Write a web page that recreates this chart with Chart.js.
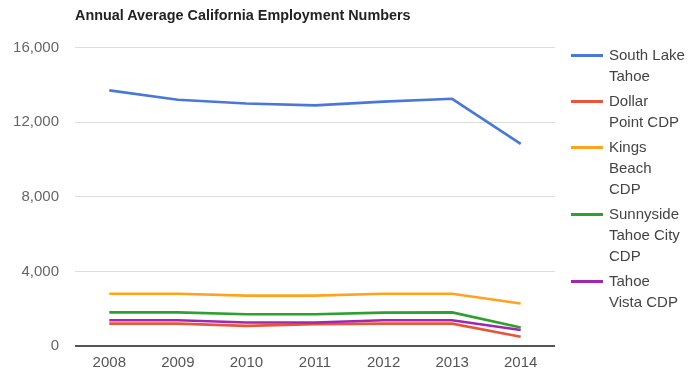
<!DOCTYPE html>
<html>
<head>
<meta charset="utf-8">
<script src="https://cdn.jsdelivr.net/npm/chart.js@4"></script>
<style>
  body { margin:0; background:#fff; font-family:"Liberation Sans", Arial, sans-serif; }
  #wrap { position:relative; width:691px; height:373px; }
  #title { position:absolute; left:75px; top:7px; font-size:14.4px; font-weight:bold; color:#222; }
  #legend { position:absolute; left:571px; top:44px; font-size:15px; color:#444; }
  .item { position:relative; padding-left:38px; line-height:21px; margin-bottom:4px; }
  .item span.sw { position:absolute; left:0; top:10px; width:32px; height:3px; }
</style>
</head>
<body>
<div id="wrap">
  <canvas id="c" width="691" height="373"></canvas>
  <div id="title">Annual Average California Employment Numbers</div>
  <div id="legend"></div>
</div>
<script>
// === Data ===
const years = ['2008','2009','2010','2011','2012','2013','2014'];
const southLake  = [13700, 13200, 13000, 12900, 13100, 13250, 10830];
const dollarPt   = [1200, 1200, 1080, 1170, 1200, 1200, 500];
const kingsBeach = [2800, 2800, 2700, 2700, 2800, 2800, 2280];
const sunnyside  = [1800, 1800, 1700, 1700, 1790, 1800, 990];
const tahoeVista = [1380, 1380, 1260, 1260, 1380, 1380, 860];
const yTicks = [0, 4000, 8000, 12000, 16000];

// legend labels, broken the same way as the original
const names = [
  ['South Lake', 'Tahoe'],
  ['Dollar', 'Point CDP'],
  ['Kings', 'Beach', 'CDP'],
  ['Sunnyside', 'Tahoe City', 'CDP'],
  ['Tahoe', 'Vista CDP']
];
const colors = ['#4a78d6', '#e8553a', '#ffa31f', '#2ea02e', '#a326b0'];
const series = [southLake, dollarPt, kingsBeach, sunnyside, tahoeVista];

const datasets = series.map((d, i) => ({
  label: names[i].join(' '),
  data: d,
  borderColor: colors[i],
  backgroundColor: colors[i],
  borderWidth: 2.6,
  pointRadius: 0,
  tension: 0,
  fill: false
}));
// South Lake drawn last so it sits on top
datasets.reverse();

new Chart(document.getElementById('c'), {
  type: 'line',
  data: { labels: years, datasets },
  options: {
    responsive: false,
    animation: false,
    layout: { padding: { top: 47.5, right: 136, left: 0, bottom: 0 } },
    plugins: { legend: { display: false }, tooltip: { enabled: false } },
    scales: {
      x: {
        offset: true,
        grid: { display: false },
        border: { display: false },
        ticks: { color: '#555', font: { family: 'Liberation Sans', size: 15 }, padding: 0, maxRotation: 0 },
        afterFit: (s) => { s.height = 27; }
      },
      y: {
        min: 0, max: 16000,
        afterBuildTicks: (s) => { s.ticks = yTicks.map(v => ({ value: v })); },
        border: { display: false },
        grid: {
          drawTicks: false,
          color: (c) => c.tick && c.tick.value === 0 ? '#555' : '#dcdcdc',
          lineWidth: (c) => c.tick && c.tick.value === 0 ? 2 : 1
        },
        ticks: {
          color: '#666', padding: 16,
          font: { family: 'Liberation Sans', size: 15 },
          callback: (v) => v.toLocaleString('en-US')
        },
        afterFit: (s) => { s.width = 75; }
      }
    }
  }
});

// === Legend HTML ===
const leg = document.getElementById('legend');
names.forEach((lines, i) => {
  leg.insertAdjacentHTML('beforeend',
    `<div class="item"><span class="sw" style="background:${colors[i]}"></span>${lines.join('<br>')}</div>`);
});
</script>
</body>
</html>
